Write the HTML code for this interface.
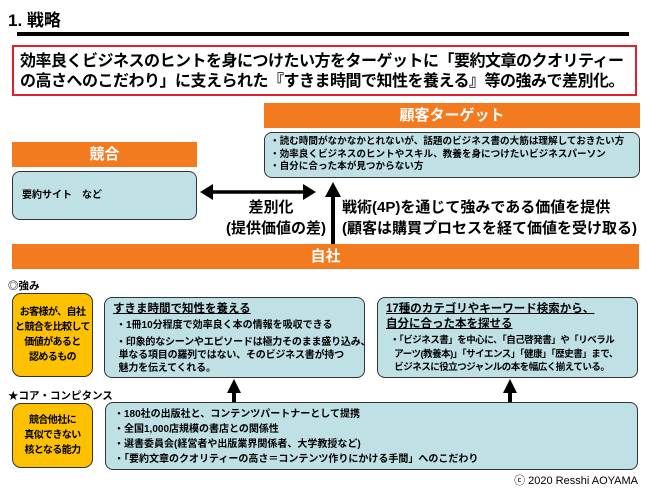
<!DOCTYPE html>
<html><head><meta charset="utf-8"><style>
*{margin:0;padding:0;box-sizing:border-box}
body{width:650px;height:487px;background:#fff;position:relative;overflow:hidden;font-family:"Liberation Sans","Noto Sans CJK JP",sans-serif;font-weight:bold;color:#000}
.a{position:absolute;white-space:nowrap}
.bar{position:absolute;background:#f47a1f;color:#fff;text-align:center}
.box{position:absolute;background:#bfe0e4;border:1.5px solid #333;border-radius:8px}
.yel{position:absolute;background:#fdc100;border:1.5px solid #333;border-radius:9px;display:flex;align-items:center;justify-content:center;text-align:center;font-size:10px;line-height:15px;letter-spacing:-0.6px;white-space:nowrap}
.s{font-size:10px;line-height:13px}
</style></head><body>
<div class="a" style="left:8px;top:6px;font-size:17px">1. 戦略</div>
<div class="a" style="left:17px;top:32px;width:612px;height:4px;background:#000"></div>
<div class="a" style="left:12px;top:45px;width:625px;height:51px;border:2px solid #e0202a"></div>
<div class="a" style="left:20px;top:52px;font-size:16px;line-height:20px;letter-spacing:-0.5px">効率良くビジネスのヒントを身につけたい方をターゲットに「要約文章のクオリティー<br>の高さへのこだわり」に支えられた『すきま時間で知性を養える』等の強みで差別化。</div>

<div class="bar" style="left:264px;top:103px;width:376px;height:25px;font-size:15px;line-height:25px">顧客ターゲット</div>
<div class="box" style="left:264px;top:132px;width:376px;height:46px"></div>
<div class="a s" style="left:270px;top:136px;font-size:9.6px;line-height:12.5px">・読む時間がなかなかとれないが、話題のビジネス書の大筋は理解しておきたい方<br>・効率良くビジネスのヒントやスキル、教養を身につけたいビジネスパーソン<br>・自分に合った本が見つからない方</div>

<div class="bar" style="left:12px;top:142px;width:185px;height:25px;font-size:15px;line-height:25px">競合</div>
<div class="box" style="left:12px;top:171px;width:185px;height:49px"></div>
<div class="a s" style="left:22px;top:189px">要約サイト　など</div>

<svg class="a" style="left:0;top:0" width="650" height="487">
<line x1="210" y1="192" x2="306" y2="192" stroke="#000" stroke-width="3.5"/>
<polygon points="200,192 213,184 213,200" fill="#000"/>
<polygon points="316,192 303,184 303,200" fill="#000"/>
<line x1="333" y1="196" x2="333" y2="247" stroke="#000" stroke-width="4"/>
<polygon points="333,182 325,197 341,197" fill="#000"/>
<line x1="234" y1="392" x2="234" y2="402" stroke="#000" stroke-width="4"/>
<polygon points="234,379 227,393 241,393" fill="#000"/>
<line x1="510" y1="392" x2="510" y2="402" stroke="#000" stroke-width="4"/>
<polygon points="510,379 503,393 517,393" fill="#000"/>
</svg>
<div class="a" style="left:226px;top:197px;font-size:15px;line-height:21px;text-align:center;width:90px">差別化<br>(提供価値の差)</div>
<div class="a" style="left:342px;top:197px;font-size:15px;line-height:21px">戦術(4P)を通じて強みである価値を提供<br>(顧客は購買プロセスを経て価値を受け取る)</div>

<div class="bar" style="left:12px;top:244px;width:627px;height:25px;font-size:15px;line-height:25px">自社</div>
<div class="a" style="left:8px;top:278px;font-size:10.5px">◎強み</div>
<div class="yel" style="left:12px;top:293px;width:81px;height:84px">お客様が、自社<br>と競合を比較して<br>価値があると<br>認めるもの</div>
<div class="box" style="left:104px;top:297px;width:261px;height:81px"></div>
<div class="a" style="left:113px;top:300px;font-size:11.5px;text-decoration:underline">すきま時間で知性を養える</div>
<div class="a s" style="left:116px;top:320px;line-height:12.8px">・1冊10分程度で効率良く本の情報を吸収できる</div>
<div class="a s" style="left:116px;top:336px;line-height:13px;letter-spacing:-0.2px">・印象的なシーンやエピソードは極力そのまま盛り込み、<br>&nbsp;単なる項目の羅列ではない、そのビジネス書が持つ<br>&nbsp;魅力を伝えてくれる。</div>

<div class="box" style="left:377px;top:297px;width:261px;height:81px"></div>
<div class="a" style="left:386px;top:302px;font-size:11.5px;line-height:15px;text-decoration:underline">17種のカテゴリやキーワード検索から、<br>自分に合った本を探せる</div>
<div class="a s" style="left:390px;top:334px;font-size:9.5px;line-height:13.5px;letter-spacing:-0.5px">・「ビジネス書」を中心に、「自己啓発書」や「リベラル<br>&nbsp;&nbsp;アーツ(教養本)」「サイエンス」「健康」「歴史書」まで、<br>&nbsp;&nbsp;ビジネスに役立つジャンルの本を幅広く揃えている。</div>

<div class="a" style="left:8px;top:388px;font-size:10.5px">★コア・コンピタンス</div>
<div class="yel" style="left:12px;top:403px;width:81px;height:65px">競合他社に<br>真似できない<br>核となる能力</div>
<div class="box" style="left:105px;top:402px;width:533px;height:68px"></div>
<div class="a s" style="left:114px;top:407px;line-height:15px">・180社の出版社と、コンテンツパートナーとして提携<br>・全国1,000店規模の書店との関係性<br>・選書委員会(経営者や出版業界関係者、大学教授など)<br>・「要約文章のクオリティーの高さ＝コンテンツ作りにかける手間」へのこだわり</div>
<div class="a" style="right:12px;top:472px;font-size:11px;font-weight:normal">ⓒ 2020 Resshi AOYAMA</div>
</body></html>
